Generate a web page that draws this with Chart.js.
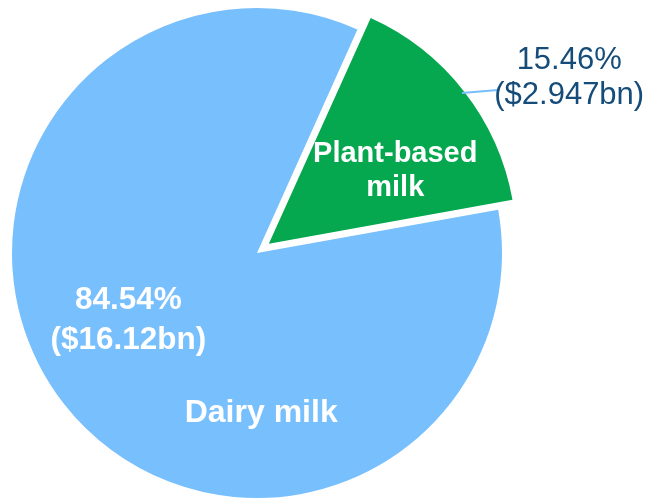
<!DOCTYPE html>
<html>
<head>
<meta charset="utf-8">
<script src="https://cdn.jsdelivr.net/npm/chart.js@4/dist/chart.umd.min.js"></script>
<style>
  html, body { margin: 0; padding: 0; background: #fff; overflow: hidden; }
  #wrap { position: relative; width: 651px; height: 499px; }
</style>
</head>
<body>
<div id="wrap"><canvas id="milkChart"></canvas></div>
<script>
// Market share, plant-based vs dairy milk
const categories = ['Plant-based milk', 'Dairy milk'];
const categoryLines = [['Plant-based', 'milk'], ['Dairy milk']];
const shares = [15.46, 84.54];          // percent
const salesBn = ['2.947', '16.12'];     // US$ billion, as printed
const sliceColors = ['#05A74F', '#77BFFD'];

const FONT = '"Liberation Sans", Arial, sans-serif';
const NAVY = '#154C79';

// draws the value and category labels
const pieLabels = {
  id: 'pieLabels',
  afterDatasetsDraw(chart) {
    const ctx = chart.ctx;
    const arcs = chart.getDatasetMeta(0).data;
    const plant = arcs[0];
    const dairy = arcs[1];
    const r = dairy.outerRadius;
    const cx = dairy.x, cy = dairy.y;

    const polar = (ang, dist) => [cx + Math.cos(ang) * dist, cy + Math.sin(ang) * dist];
    const deg = d => d * Math.PI / 180;

    function lines(txt, x, y, gap) {
      const y0 = y - gap * (txt.length - 1) / 2;
      txt.forEach((t, i) => ctx.fillText(t, x, y0 + i * gap));
    }

    ctx.save();
    ctx.textAlign = 'center';
    ctx.textBaseline = 'middle';

    // plant-based: category inside, value outside with leader line
    const mid = (plant.startAngle + plant.endAngle) / 2;
    const off = 15;
    const px = plant.x + Math.cos(mid) * off;
    const py = plant.y + Math.sin(mid) * off;

    ctx.fillStyle = '#fff';
    ctx.font = 'bold 29px ' + FONT;
    lines(categoryLines[0], px + Math.cos(deg(-30)) * 146, py + Math.sin(deg(-30)) * 146, 34);

    const sx = px + Math.cos(mid) * r;
    const sy = py + Math.sin(mid) * r;
    ctx.strokeStyle = '#77BFFD';
    ctx.lineWidth = 2;
    ctx.beginPath();
    ctx.moveTo(sx, sy);
    ctx.lineTo(sx + 36, sy - 3);
    ctx.stroke();

    ctx.fillStyle = NAVY;
    ctx.font = '31px ' + FONT;
    const [ox, oy] = polar(deg(-29.3), 358);
    lines([shares[0].toFixed(2) + '%', '($' + salesBn[0] + 'bn)'], ox, oy, 35);

    // dairy: value and category inside
    ctx.fillStyle = '#fff';
    ctx.font = 'bold 31.5px ' + FONT;
    const [vx, vy] = polar(deg(152.5), 145);
    lines([shares[1].toFixed(2) + '%', '($' + salesBn[1] + 'bn)'], vx, vy, 40);
    ctx.font = 'bold 32px ' + FONT;
    const [dx, dy] = polar(deg(88.5), 160);
    lines(categoryLines[1], dx, dy, 34);

    ctx.restore();
  }
};

new Chart(document.getElementById('milkChart'), {
  type: 'pie',
  data: {
    labels: categories,
    datasets: [{
      data: shares,
      backgroundColor: sliceColors,
      borderWidth: 0,
      offset: [60, 0]
    }]
  },
  options: {
    responsive: true,
    maintainAspectRatio: false,
    animation: false,
    devicePixelRatio: 1,
    rotation: 24.2,
    radius: 245,
    layout: { padding: { left: 0, right: 137, top: 7, bottom: 0 } },
    plugins: {
      legend: { display: false },
      tooltip: { enabled: false }
    }
  },
  plugins: [pieLabels]
});
</script>
</body>
</html>
